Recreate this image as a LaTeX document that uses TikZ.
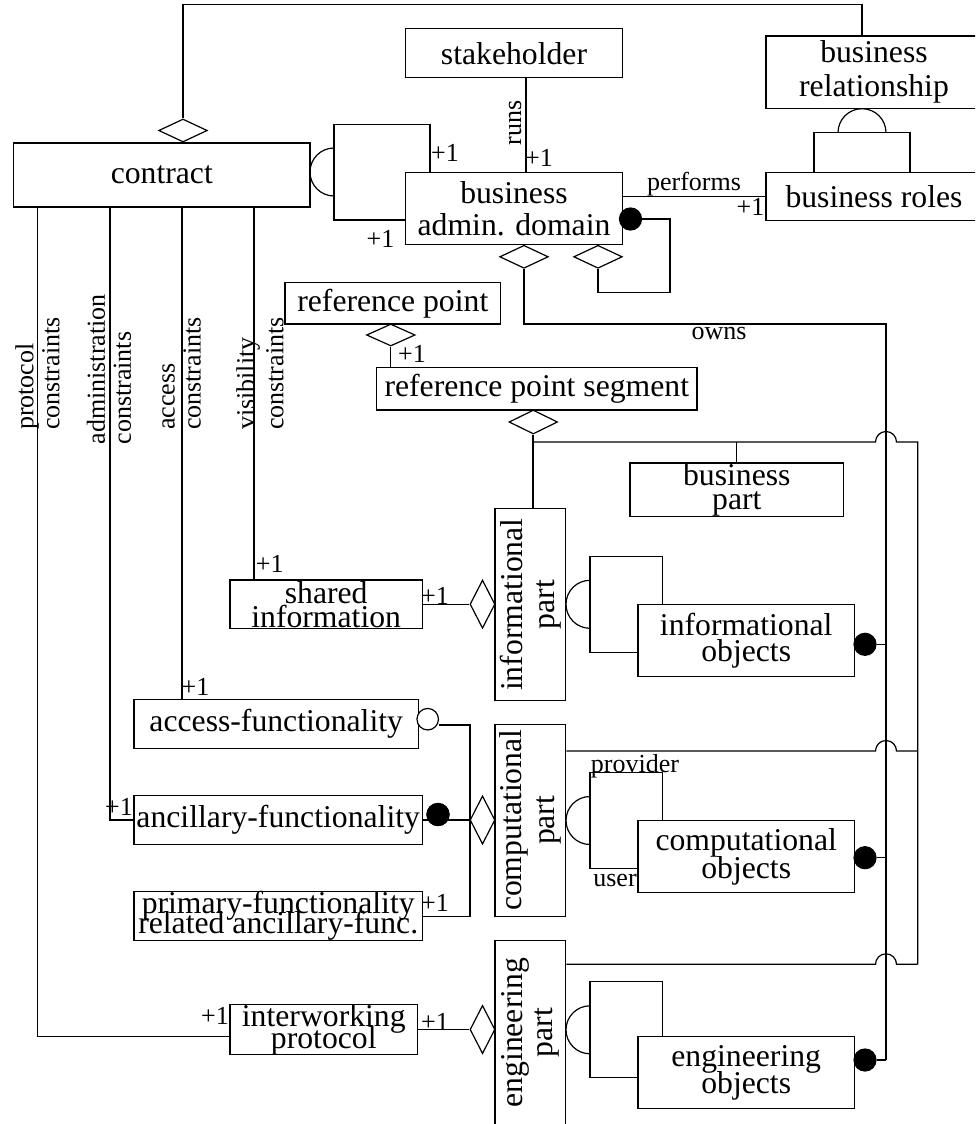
\documentclass[tikz,border=0pt]{standalone}
\usepackage{fontspec}
\setmainfont{Liberation Serif}
\usetikzlibrary{shapes.geometric}
\newcommand{\tightlines}{\lineskiplimit=-1000pt\relax}
\newcommand{\fsz}[1]{\fontsize{31.7}{#1}\selectfont\tightlines}
\begin{document}
\begin{tikzpicture}[x=1pt,y=-1pt,line width=1.2pt,
  box/.style={draw,fill=white,inner sep=0pt,align=center,font=\fsz{35}},
  lbl/.style={inner sep=0pt,font=\fontsize{26}{28}\selectfont},
  hdia/.style={draw,fill=white,diamond,inner sep=0pt,minimum width=48.6pt,minimum height=23pt},
  vdia/.style={draw,fill=white,diamond,inner sep=0pt,minimum width=25pt,minimum height=48.3pt},
  fdot/.style={circle,draw,fill=black,inner sep=0pt,minimum size=22pt},
  odotst/.style={circle,draw,fill=white,inner sep=0pt,minimum size=21.5pt},
  vlbl/.style={rotate=90,anchor=west,align=left,inner sep=0pt},
  rot/.style={rotate=90}]

\useasboundingbox (0,0) rectangle (975,1124);
\fill[white] (0,0) rectangle (975,1124);
\clip (0,0) rectangle (975,1124);

% self-association loops (drawn behind the boxes)
\draw (334,124.7) rectangle (430,220);
\draw (334,148) arc[start angle=270,end angle=90,radius=24];
\draw (814,132.7) rectangle (910,172.7);
\draw (838,132.7) arc[start angle=180,end angle=360,radius=24];
\draw (590,556.3) rectangle (662.3,652.3);
\draw (590,580.3) arc[start angle=270,end angle=90,radius=24];
\draw (590,772.7) rectangle (662.3,868.3);
\draw (590,796.5) arc[start angle=270,end angle=90,radius=24];
\draw (590,981.7) rectangle (662.3,1077.3);
\draw (590,1005.8) arc[start angle=270,end angle=90,radius=24];

% boxes
\node[box,minimum width=216.3pt,minimum height=49pt] (stake) at (514,53.2) {stakeholder};
\node[box,minimum width=216pt,minimum height=72.3pt,font=\fsz{34}] (bizrel) at (874,72.2) {business\\relationship};
\node[box,minimum width=216pt,minimum height=47.6pt] (roles) at (874,196.5) {business roles};
\node[box,minimum width=296.3pt,minimum height=64pt] (contract) at (161.8,175) {contract};
\node[box,minimum width=216.6pt,minimum height=71.6pt,font=\fsz{32}] (bad) at (514,208.5) {business\\admin. domain};
\node[box,minimum width=215.7pt,minimum height=41.3pt] (refp) at (392.8,303.3) {reference point};
\node[box,minimum width=320.3pt,minimum height=42.3pt] (rps) at (536.8,388.8) {reference point segment};
\node[box,minimum width=213.7pt,minimum height=53.7pt,font=\fsz{24}] (bizpart) at (736.8,489.8) {business\\part};
\node[box,rot,minimum width=192pt,minimum height=70.7pt,font=\fsz{32}] (infopart) at (530.3,604.7) {informational\\part};
\node[box,minimum width=216.3pt,minimum height=72.4pt,font=\fsz{26}] (infoobj) at (746.2,640.5) {informational\\objects};
\node[box,minimum width=192.3pt,minimum height=48.3pt,font=\fsz{24}] (shared) at (326.2,604.2) {shared\\information};
\node[box,minimum width=284.3pt,minimum height=49pt] (accessf) at (276.2,723.8) {access-functionality};
\node[box,minimum width=288.3pt,minimum height=48.6pt] (ancf) at (278.2,820) {ancillary-functionality};
\node[box,minimum width=288.3pt,minimum height=49pt,font=\fsz{20}] (primf) at (278.2,916.2) {primary-functionality\\related ancillary-func.};
\node[box,rot,minimum width=192pt,minimum height=70.7pt,font=\fsz{33}] (comppart) at (530.3,820.3) {computational\\part};
\node[box,minimum width=216.3pt,minimum height=71.6pt,font=\fsz{28}] (compobj) at (746.2,856.5) {computational\\objects};
\node[box,minimum width=187.7pt,minimum height=47.6pt,font=\fsz{22}] (interw) at (323.8,1029.5) {interworking\\protocol};
\node[box,rot,minimum width=184pt,minimum height=70.7pt,font=\fsz{30}] (engpart) at (530.3,1032.7) {engineering\\part};
\node[box,minimum width=216.3pt,minimum height=71.6pt,font=\fsz{27}] (engobj) at (746.2,1072.5) {engineering\\objects};

% diamonds
\node[hdia] (cd) at (183,130.5) {};
\node[hdia] (d1) at (524,256.8) {};
\node[hdia] (d2) at (598,256.8) {};
\node[hdia,minimum height=22pt] (rpd) at (390.8,335) {};
\node[hdia,minimum height=24pt] (rpsd) at (533.3,422) {};
\node[vdia] (sd) at (482.5,604.2) {};
\node[vdia] (ad) at (482.5,820) {};
\node[vdia] (iwd) at (482.5,1029.5) {};

% dots
\node[fdot] (bd) at (630.5,219) {};
\node[fdot] (adot) at (438,814.5) {};
\node[fdot] (iodot) at (865,644.3) {};
\node[fdot] (codot) at (865,857.7) {};
\node[fdot] (eodot) at (865,1060) {};
\node[odotst] (aodot) at (427.7,719.2) {};

% helper coordinates
\coordinate (t1) at (183,4.5);
\coordinate (t2) at (862,4.5);
\coordinate (bl1) at (670,219);
\coordinate (bl2) at (598,292.7);
\coordinate (ow) at (886,324);
\coordinate (hb) at (917.7,442);
\coordinate (cl) at (917.7,751);
\coordinate (el) at (917.7,964.3);
\coordinate (av) at (470,725);
\coordinate (cP) at ([xshift=-124.1pt]contract.south);
\coordinate (cM) at ([xshift=-51.8pt]contract.south);
\coordinate (cA) at ([xshift=20.2pt]contract.south);
\coordinate (cV) at ([xshift=92.2pt]contract.south);

% connectors
\draw (cd.north) -- (t1) -- (t2) -- (t2 |- bizrel.north);
\draw ([xshift=12pt]stake.south) -- ([xshift=12pt]bad.north);
\draw (roles.west) -- (roles.west -| bad.east);
\draw (bd.east) -- (bl1) |- (bl2) -- (d2.south);
\draw (d1.south) |- (ow) -- (ow |- eodot);
\draw (iodot.east) -- (iodot -| ow);
\draw (codot.east) -- (codot -| ow);
\draw (eodot.east) -- (eodot -| ow);
\draw (rpd.south) -- (rpd.south |- rps.north);
\draw[line width=2pt] (rpsd.south) -- (rpsd.south |- infopart.east);
\draw (rpsd.south |- hb) -- (875.5,442) arc[start angle=180,end angle=360,radius=10.5] -- (hb) -- (el);
\draw (bizpart.north) -- (bizpart.north |- hb);
\draw (comppart.south |- cl) -- (875.5,751) arc[start angle=180,end angle=360,radius=10.5] -- (cl);
\draw (engpart.south |- el) -- (875.5,964.3) arc[start angle=180,end angle=360,radius=10.5] -- (el);
\draw (cP) |- ([yshift=-7.2pt]interw.west);
\draw (cM) |- (ancf.west);
\draw (cA) -- (cA |- accessf.north);
\draw (cV) -- (cV |- shared.north);
\draw (shared.east) -- (sd.west);
\draw (ancf.east |- ad.west) -- (ad.west);
\node[fdot] at (adot) {};
\draw (av -| aodot.east) -- (av) |- (primf.east);
\draw (interw.east) -- (iwd.west);

% rotated constraint labels
\node[vlbl,font=\fontsize{26}{26}\selectfont] (lprot) at (37.5,430.5) {protocol\\constraints};
\node[vlbl,font=\fontsize{26}{26}\selectfont] (ladm) at (109,445) {administration\\constraints};
\node[vlbl,font=\fontsize{26}{26}\selectfont] (lacc) at (181.7,430.5) {access\\constraints};
\node[vlbl,font=\fontsize{26}{29}\selectfont] (lvis) at (260,430.5) {visibility\\constraints};

% small labels
\node[lbl,rotate=90] (lruns) at (515,123) {runs};
\node[lbl] (lperf) at (694,184) {performs};
\node[lbl] (lowns) at (719,333.3) {owns};
\node[lbl] (lprov) at (635,766.7) {provider};
\node[lbl] (luser) at (615,880) {user};
\node[lbl] (m1) at (445,153) {+1};
\node[lbl] (m2) at (380.5,239) {+1};
\node[lbl] (m3) at (539,158) {+1};
\node[lbl] (m4) at (750.5,207) {+1};
\node[lbl] (m5) at (412,354) {+1};
\node[lbl] (m6) at (269.7,563.5) {+1};
\node[lbl] (m7) at (435,596) {+1};
\node[lbl] (m8) at (195.5,687) {+1};
\node[lbl] (m9) at (119,807) {+1};
\node[lbl] (m10) at (435,903) {+1};
\node[lbl] (m11) at (215,1015.5) {+1};
\node[lbl] (m12) at (435,1021.5) {+1};
\end{tikzpicture}
\end{document}
